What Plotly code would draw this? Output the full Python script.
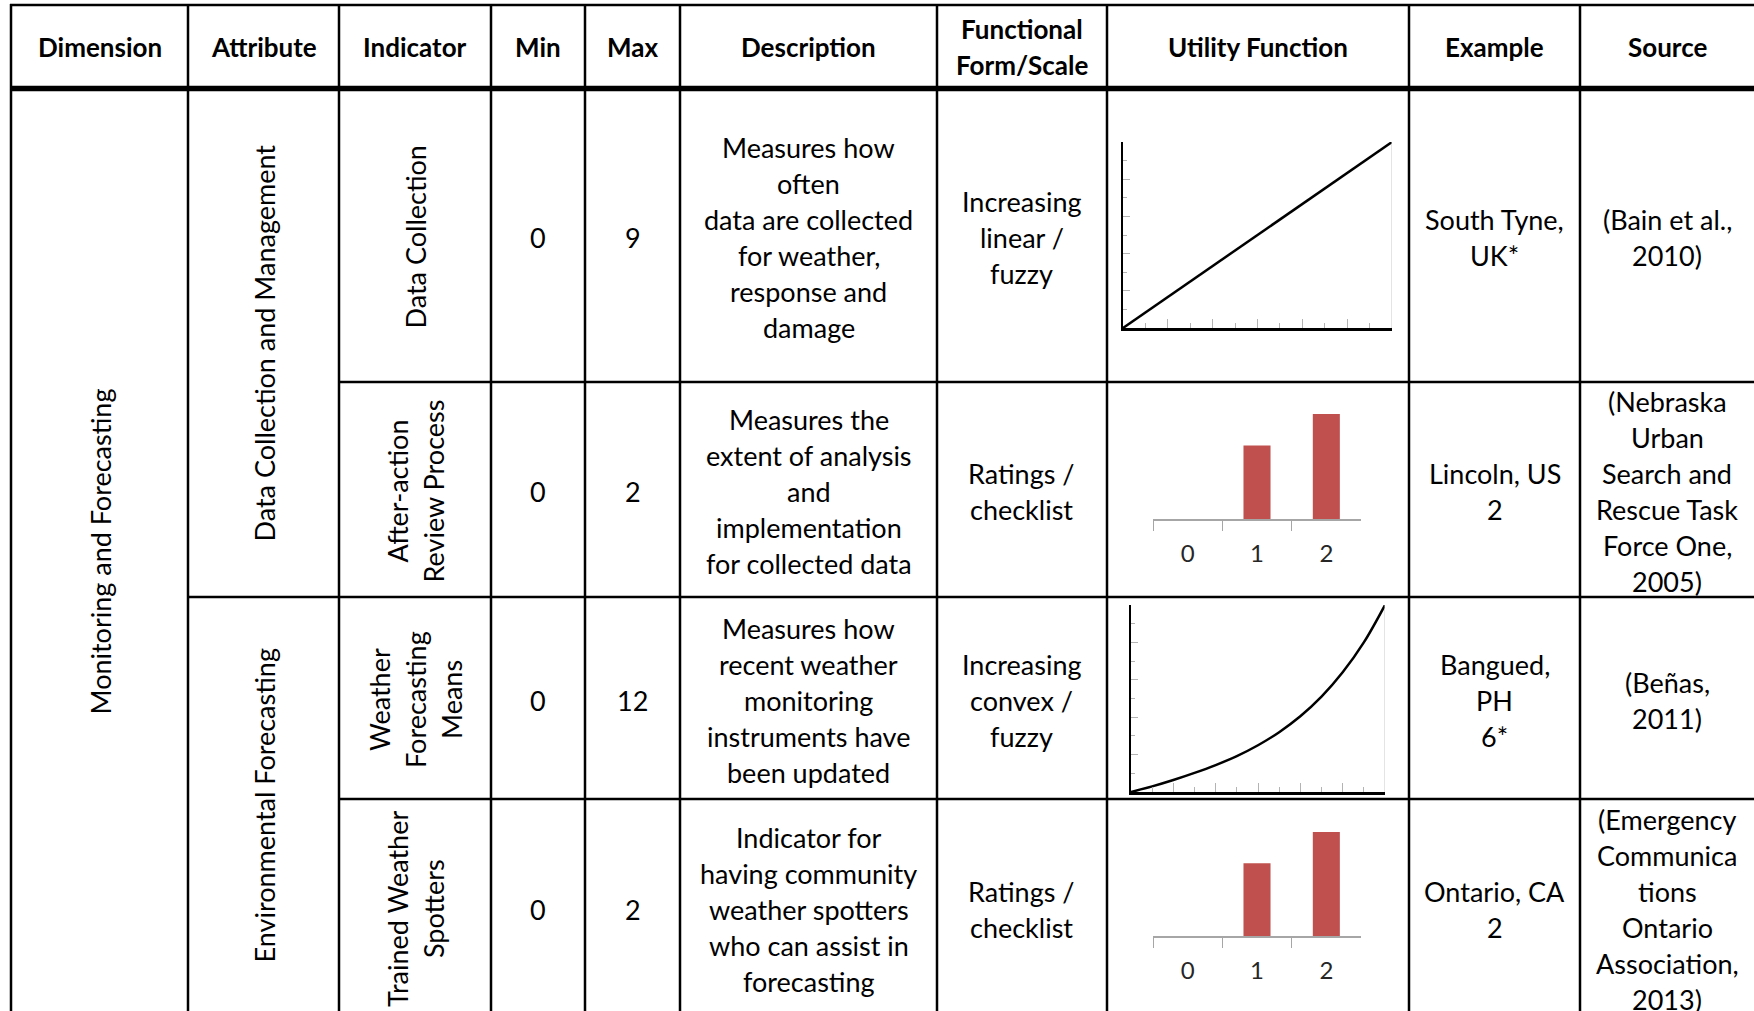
import plotly.graph_objects as go

# ---------------- data ----------------
headers = ["Dimension", "Attribute", "Indicator", "Min", "Max", "Description",
           ["Functional", "Form/Scale"], "Utility Function", "Example", "Source"]
dimension = "Monitoring and Forecasting"
attributes = ["Data Collection and Management", "Environmental Forecasting"]
indicators = [["Data Collection"], ["After-action", "Review Process"],
              ["Weather", "Forecasting", "Means"], ["Trained Weather", "Spotters"]]
mins = [0, 0, 0, 0]
maxs = [9, 2, 12, 2]
descriptions = [
    ["Measures how", "often", "data are collected", "for weather,", "response and", "damage"],
    ["Measures the", "extent of analysis", "and", "implementation", "for collected data"],
    ["Measures how", "recent weather", "monitoring", "instruments have", "been updated"],
    ["Indicator for", "having community", "weather spotters", "who can assist in", "forecasting"],
]
forms = [["Increasing", "linear /", "fuzzy"], ["Ratings /", "checklist"],
         ["Increasing", "convex /", "fuzzy"], ["Ratings /", "checklist"]]
examples = [["South Tyne,", "UK*"], ["Lincoln, US", "2"], ["Bangued,", "PH", "6*"], ["Ontario, CA", "2"]]
sources = [["(Bain et al.,", "2010)"],
           ["(Nebraska", "Urban", "Search and", "Rescue Task", "Force One,", "2005)"],
           ["(Beñas,", "2011)"],
           ["(Emergency", "Communica", "tions", "Ontario", "Association,", "2013)"]]

linear_x = [0, 9]
linear_y = [0, 1]
convex_x = [0, 1, 2, 3, 4, 5, 6, 7, 8, 9, 10, 11, 12]
convex_y = [0, 0.030, 0.064, 0.102, 0.144, 0.192, 0.250, 0.320, 0.405, 0.510, 0.640, 0.800, 1.0]
rating_levels = ["0", "1", "2"]
after_action_scores = [0, 0.7, 1.0]
spotter_scores = [0, 0.7, 1.0]

# ---------------- layout helpers ----------------
W, H = 1754, 1011
FONT = "Lato"
FS = 27
PITCH = 36


def fx(x):
    return x / W


def fy(y):
    return 1 - y / H


col_edges = [11, 188, 339, 491, 585, 680, 937, 1107, 1409, 1580, 1754]
col_c = [(col_edges[i] + col_edges[i + 1]) / 2 for i in range(10)]
header_y = (5, 89)
row_edges = [89, 382, 597, 799, 1015]
row_c = [(row_edges[i] + row_edges[i + 1]) / 2 for i in range(4)]

annotations = []


def add_lines(lines, cx, cy, bold=False, rotate=False, size=FS):
    n = len(lines)
    for i, t in enumerate(lines):
        off = (i - (n - 1) / 2) * PITCH
        x, y = (cx + off, cy) if rotate else (cx, cy + off)
        annotations.append(dict(
            text=f"<b>{t}</b>" if bold else t, x=fx(x), y=fy(y), xref="paper", yref="paper",
            xanchor="center", yanchor="middle", showarrow=False,
            textangle=-90 if rotate else 0,
            font=dict(family=FONT, size=size, color="black")))


# header
hc = (header_y[0] + header_y[1]) / 2
for i, h in enumerate(headers):
    add_lines(h if isinstance(h, list) else [h], col_c[i], hc, bold=True, size=26)

add_lines([dimension], col_c[0], (row_edges[0] + row_edges[4]) / 2, rotate=True)
add_lines([attributes[0]], col_c[1], (row_edges[0] + row_edges[2]) / 2, rotate=True)
add_lines([attributes[1]], col_c[1], (row_edges[2] + row_edges[4]) / 2, rotate=True)
for r in range(4):
    cy = row_c[r] + 2
    add_lines(indicators[r], col_c[2], cy, rotate=True)
    add_lines([str(mins[r])], col_c[3], cy)
    add_lines([str(maxs[r])], col_c[4], cy)
    add_lines(descriptions[r], col_c[5], cy)
    add_lines(forms[r], col_c[6], cy)
    add_lines(examples[r], col_c[8], cy)
    add_lines(sources[r], col_c[9], cy)

shapes = []


def hline(y, x0, x1, w):
    shapes.append(dict(type="line", xref="paper", yref="paper", x0=fx(x0), x1=fx(x1),
                       y0=fy(y), y1=fy(y), line=dict(color="black", width=w)))


def vline(x, y0, y1, w):
    shapes.append(dict(type="line", xref="paper", yref="paper", x0=fx(x), x1=fx(x),
                       y0=fy(y0), y1=fy(y1), line=dict(color="black", width=w)))


hline(5, 10, W, 2.5)
hline(88.5, 10, W, 5.5)
hline(382, 339, W, 2.5)
hline(597, 188, W, 2.5)
hline(799, 339, W, 2.5)
for x in col_edges[:-1]:
    vline(x, 4, H, 2.5)

fig = go.Figure()

# ---------------- mini charts ----------------
GRAY = "#b3b3b3"


def line_axes(n, xr, ydom, xdom, xdt):
    xa = dict(domain=[fx(xdom[0]), fx(xdom[1])], range=xr, anchor=f"y{n}",
              showline=True, linecolor="black", linewidth=2.5, showgrid=False, zeroline=False,
              ticks="inside", ticklen=9, tickwidth=1, tickcolor=GRAY, dtick=xdt * 2, tick0=0,
              showticklabels=False,
              minor=dict(ticks="inside", ticklen=5, tickwidth=1, tickcolor=GRAY, dtick=xdt, tick0=0, showgrid=False))
    ya = dict(domain=[fy(ydom[1]), fy(ydom[0])], range=[0, 1], anchor=f"x{n}",
              showline=True, linecolor="black", linewidth=2, showgrid=False, zeroline=False,
              ticks="inside", ticklen=7, tickwidth=1, tickcolor=GRAY, dtick=0.2, tick0=0,
              showticklabels=False,
              minor=dict(ticks="inside", ticklen=4, tickwidth=1, tickcolor=GRAY, dtick=0.1, tick0=0, showgrid=False))
    return xa, ya


def bar_axes(n, ydom, xdom):
    xa = dict(domain=[fx(xdom[0]), fx(xdom[1])], type="category", anchor=f"y{n}",
              showline=True, linecolor="#a6a6a6", linewidth=1.5, showgrid=False, zeroline=False,
              ticks="outside", tickson="boundaries", ticklen=10, tickwidth=1.2, tickcolor="#a6a6a6",
              tickfont=dict(family=FONT, size=24, color="#262626"), ticklabelstandoff=12)
    ya = dict(domain=[fy(ydom[1]), fy(ydom[0])], range=[0, 1], anchor=f"x{n}",
              showline=False, showgrid=True, gridcolor="#a6a6a6", gridwidth=1.5, dtick=1,
              zeroline=False, showticklabels=False, ticks="")
    return xa, ya


# chart 1: linear
fig.add_trace(go.Scatter(x=linear_x, y=linear_y, mode="lines", line=dict(color="black", width=2.5),
                         xaxis="x", yaxis="y", showlegend=False, hoverinfo="skip"))
xa1, ya1 = line_axes("", [linear_x[0], linear_x[-1]], (142, 328), (1123, 1392), (linear_x[-1] - linear_x[0]) / 12)
xa1["anchor"] = "y"
ya1["anchor"] = "x"

BAR = dict(color="#C0504D", line=dict(width=0))

# chart 2: bars
fig.add_trace(go.Bar(x=rating_levels, y=after_action_scores, marker=BAR,
                     width=0.39, xaxis="x2", yaxis="y2", showlegend=False, hoverinfo="skip"))
xa2, ya2 = bar_axes(2, (414, 519), (1153, 1361))

# chart 3: convex
fig.add_trace(go.Scatter(x=convex_x, y=convex_y, mode="lines", line=dict(color="black", width=2.5, shape="spline"),
                         xaxis="x3", yaxis="y3", showlegend=False, hoverinfo="skip"))
xa3, ya3 = line_axes(3, [convex_x[0], convex_x[-1]], (605, 792), (1131, 1385), 1)

# chart 4: bars
fig.add_trace(go.Bar(x=rating_levels, y=spotter_scores, marker=BAR,
                     width=0.39, xaxis="x4", yaxis="y4", showlegend=False, hoverinfo="skip"))
xa4, ya4 = bar_axes(4, (832, 936), (1153, 1361))

# right-hand frame lines of the line charts
for xr, yr, xv in (("x", "y", linear_x[-1]), ("x3", "y3", convex_x[-1])):
    shapes.append(dict(type="line", xref=xr, yref=yr, x0=xv, x1=xv, y0=0, y1=1,
                       line=dict(color="#c8c8c8", width=1)))

fig.update_layout(
    width=W, height=H, margin=dict(l=0, r=0, t=0, b=0),
    paper_bgcolor="white", plot_bgcolor="rgba(0,0,0,0)",
    xaxis=xa1, yaxis=ya1, xaxis2=xa2, yaxis2=ya2, xaxis3=xa3, yaxis3=ya3, xaxis4=xa4, yaxis4=ya4,
    shapes=shapes, annotations=annotations, showlegend=False, bargap=0.6,
)

fig.write_html("out.html", config={"displayModeBar": False},
               post_script="document.body.style.margin='0px';document.body.style.padding='0px';"
                           "document.body.style.overflow='hidden';")
